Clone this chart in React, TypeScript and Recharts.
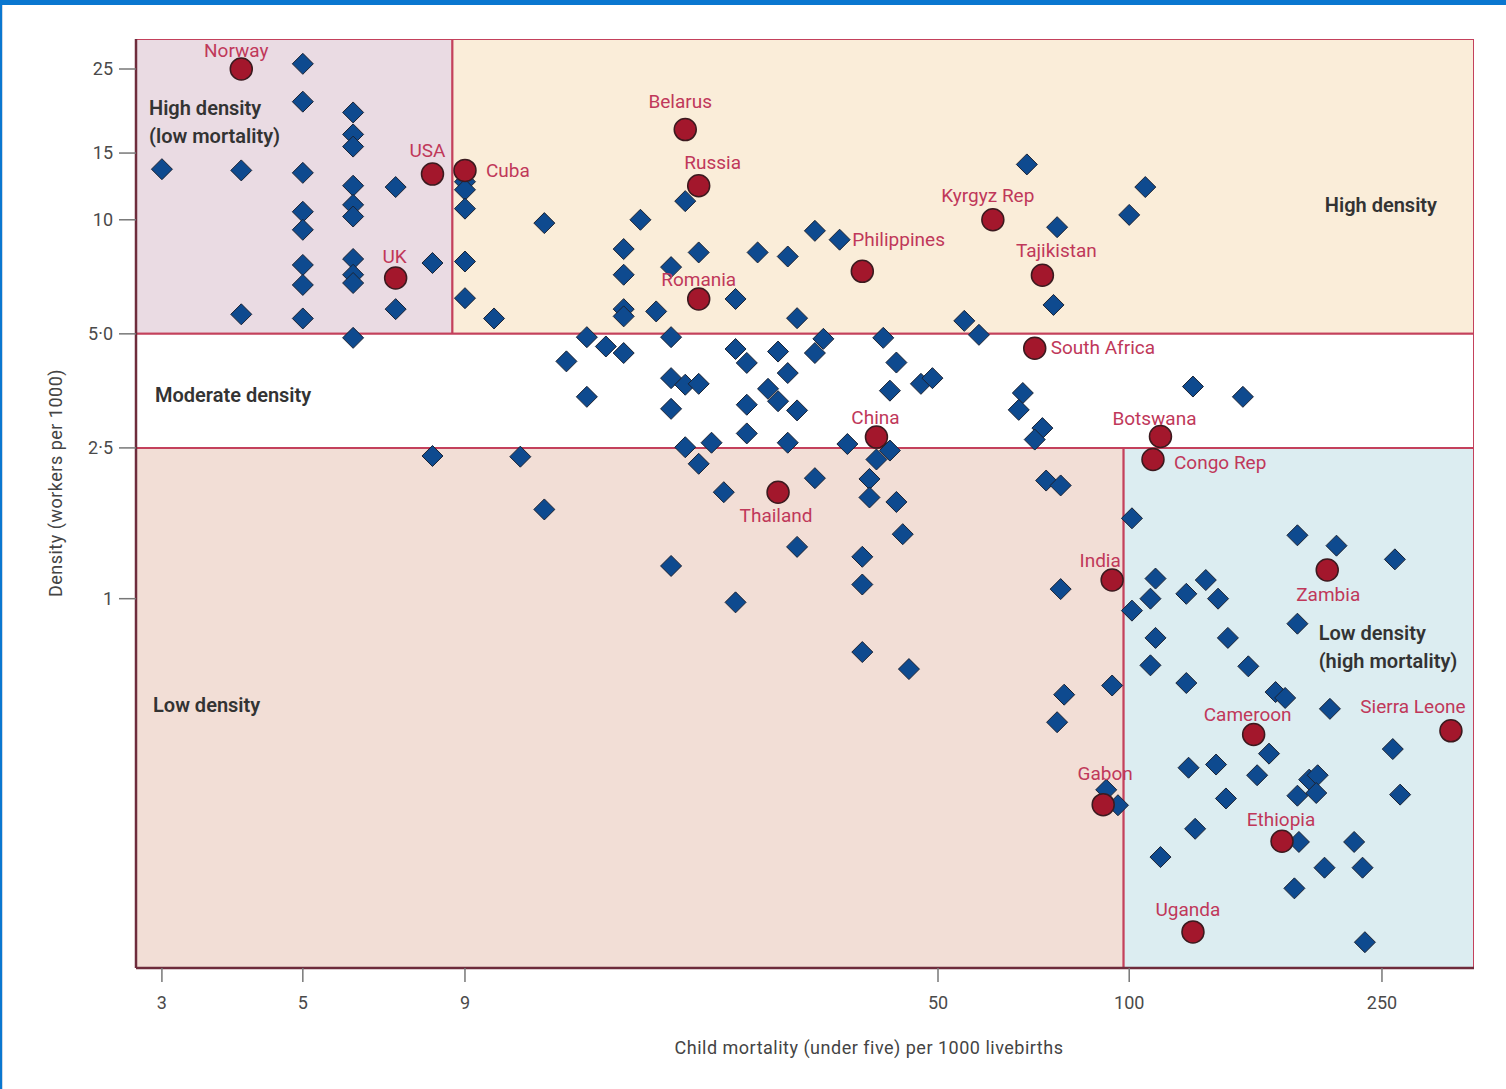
import React from 'react';
import { ReferenceArea, Scatter, ScatterChart, XAxis, YAxis } from 'recharts';

/** Health-worker density vs child mortality — log/log scatter with density bands. */

// unlabelled countries
const mortality = [
  3, 4, 4, 5, 5, 5, 5, 5, 5, 5, 5,
  6, 6, 6, 6, 6, 6, 6, 6, 6, 6,
  7, 7, 8, 9, 9, 9, 9, 9,
  10, 12, 17, 20, 16, 16, 19, 21, 26, 29, 32, 35, 16, 16, 18, 24, 30,
  69, 55, 58, 106, 100, 77, 76,
  14, 15, 16, 19, 24, 25, 28, 29, 33, 32, 41, 43,
  13, 14, 19, 20, 21, 19, 25, 27, 28, 30, 42, 47, 49, 68, 67, 73, 71,
  25, 22, 20, 29, 36, 126, 151,
  42, 40, 8, 11, 12, 21, 23, 32, 39, 39, 43, 44, 30, 38, 19, 38, 24, 38, 45,
  74, 78, 78, 79, 77, 94, 92, 96,
  101, 110, 108, 101, 123, 132, 138, 184, 212, 262, 184, 110, 143, 108, 154,
  123, 170, 176, 207, 260, 166, 124, 137, 159, 192, 198, 184, 197, 267, 142,
  127, 185, 226, 112, 203, 233, 182, 235,
];
const density = [
  13.6, 13.5, 5.63, 25.8, 20.5, 13.3, 10.5, 9.41, 7.6, 6.73, 5.49,
  19.2, 16.8, 15.6, 12.3, 10.95, 10.2, 7.88, 7.16, 6.81, 4.88,
  12.2, 5.81, 7.69, 12.6, 12.0, 10.7, 7.76, 6.21,
  5.49, 9.8, 10.0, 11.2, 8.37, 7.16, 7.5, 8.2, 8.2, 8.0, 9.35, 8.86, 5.81, 5.56, 5.73, 6.18, 5.5,
  14.0, 5.41, 4.97, 12.2, 10.3, 9.56, 5.96,
  4.9, 4.63, 4.45, 4.9, 4.56, 4.19, 4.49, 3.94, 4.85, 4.45, 4.88, 4.2,
  4.23, 3.41, 3.82, 3.67, 3.69, 3.17, 3.25, 3.58, 3.32, 3.14, 3.54, 3.69, 3.82, 3.49, 3.15, 2.82, 2.63,
  2.73, 2.58, 2.51, 2.58, 2.56, 3.63, 3.41,
  2.46, 2.33, 2.38, 2.37, 1.72, 2.27, 1.91, 2.08, 2.07, 1.85, 1.8, 1.48, 1.37, 1.29, 1.22, 1.09, 0.978, 0.723, 0.652,
  2.05, 1.99, 1.06, 0.558, 0.472, 0.59, 0.313, 0.285,
  1.63, 1.13, 1.0, 0.93, 1.03, 1.12, 1.0, 1.47, 1.38, 1.27, 0.859, 0.788, 0.788, 0.667, 0.663,
  0.599, 0.567, 0.547, 0.512, 0.401, 0.39, 0.358, 0.365, 0.342, 0.333, 0.342, 0.302, 0.307, 0.304, 0.297,
  0.247, 0.228, 0.228, 0.208, 0.195, 0.195, 0.172, 0.124,
];

// labelled countries
const countries = [
  'Norway', 'USA', 'Cuba', 'UK', 'Belarus', 'Russia', 'Romania', 'Philippines',
  'Kyrgyz Rep', 'Tajikistan', 'South Africa', 'China', 'Thailand', 'Botswana',
  'Congo Rep', 'India', 'Zambia', 'Cameroon', 'Sierra Leone', 'Gabon', 'Ethiopia', 'Uganda',
];
const countryMortality = [4, 8, 9, 7, 20, 21, 21, 38, 61, 73, 71, 40, 28, 112, 109, 94, 205, 157, 321, 91, 174, 126];
const countryDensity = [25.0, 13.2, 13.5, 7.02, 17.3, 12.3, 6.18, 7.31, 10.0, 7.14, 4.58, 2.67, 1.91, 2.68, 2.33, 1.12, 1.19, 0.438, 0.448, 0.286, 0.229, 0.132];

const xTicks = [3, 5, 9, 50, 100, 250];
const yTicks = [1, 2.5, 5, 10, 15, 25];
const yTickLabels = ['1', '2·5', '5·0', '10', '15', '25'];

const xDomain = [2.731, 349];
const yDomain = [0.106, 30];
const mortalityCut = [8.6, 98];
const densityCut = [2.5, 5];

const others = mortality.map((x, i) => ({ x, y: density[i] }));
const labelled = countries.map((name, i) => ({ name, x: countryMortality[i], y: countryDensity[i] }));

// where each country name sits relative to its dot: [dx, dy, anchor]
const labelOffset: Record<string, [number, number, 'start' | 'middle']> = {
  Norway: [-5, -19, 'middle'],
  USA: [-5, -24, 'middle'],
  Cuba: [21, 0, 'start'],
  UK: [-1, -22, 'middle'],
  Belarus: [-5, -28, 'middle'],
  Russia: [14, -23, 'middle'],
  Romania: [0, -19, 'middle'],
  Philippines: [-10, -32, 'start'],
  'Kyrgyz Rep': [-5, -24, 'middle'],
  Tajikistan: [14, -25, 'middle'],
  'South Africa': [16, -1, 'start'],
  China: [-1, -20, 'middle'],
  Thailand: [-2, 23, 'middle'],
  Botswana: [-6, -18, 'middle'],
  'Congo Rep': [21, 3, 'start'],
  India: [-12, -20, 'middle'],
  Zambia: [1, 24, 'middle'],
  Cameroon: [-6, -20, 'middle'],
  'Sierra Leone': [-38, -24, 'middle'],
  Gabon: [2, -31, 'middle'],
  Ethiopia: [-1, -22, 'middle'],
  Uganda: [-5, -22, 'middle'],
};

const FONT = 'Roboto, "Noto Sans", sans-serif';
const BORDER = '#c4415c';
const AXIS = '#6e2c3c';
const LABEL_RED = '#c0385a';

const Diamond = (p: any) => {
  const { cx, cy } = p;
  const r = 10.5;
  return (
    <path
      d={`M${cx},${cy - r}L${cx + r},${cy}L${cx},${cy + r}L${cx - r},${cy}Z`}
      fill="#0e4a8f"
      stroke="#1c2333"
      strokeWidth={1}
    />
  );
};

const Labelled = (p: any) => {
  const { cx, cy, payload } = p;
  const [dx, dy, anchor] = labelOffset[payload.name] ?? [0, -20, 'middle'];
  return (
    <g>
      <circle cx={cx} cy={cy} r={11} fill="#a3172c" stroke="#3b1a1f" strokeWidth={1.5} />
      <text
        x={cx + dx}
        y={cy + dy}
        textAnchor={anchor}
        dominantBaseline="central"
        fill={LABEL_RED}
        fontSize={19}
        fontFamily={FONT}
      >
        {payload.name}
      </text>
    </g>
  );
};

const regionLabel =
  (lines: string[], dx: number, dy: number, fromRight = false) =>
  (props: any) => {
    const vb = props.viewBox;
    const x = fromRight ? vb.x + vb.width - dx : vb.x + dx;
    return (
      <g>
        {lines.map((t, i) => (
          <text
            key={t}
            x={x}
            y={vb.y + dy + i * 28}
            textAnchor={fromRight ? 'end' : 'start'}
            dominantBaseline="central"
            fill="#333"
            fontSize={20}
            fontWeight={600}
            fontFamily={FONT}
          >
            {t}
          </text>
        ))}
      </g>
    );
  };

const tickStyle = { fill: '#4a4a4a', fontSize: 18, fontFamily: FONT };

export default function App() {
  return (
    <div style={{ position: 'absolute', left: 0, top: 0, width: 1506, height: 1089, background: '#fff', overflow: 'hidden' }}>
      <div style={{ position: 'absolute', left: 0, top: 0 }}>
        <ScatterChart width={1506} height={1089} margin={{ top: 39, right: 32, bottom: 31, left: 56 }}>
          <XAxis
            dataKey="x"
            type="number"
            scale="log"
            domain={xDomain}
            allowDataOverflow
            ticks={xTicks}
            interval={0}
            height={90}
            tick={tickStyle}
            tickSize={14}
            tickMargin={14}
            tickLine={{ stroke: '#777', strokeWidth: 1.5 }}
            axisLine={{ stroke: AXIS, strokeWidth: 2.5 }}
            label={{
              content: (props: any) => (
                <text
                  x={props.viewBox.x + 733}
                  y={props.viewBox.y + 79}
                  textAnchor="middle"
                  dominantBaseline="central"
                  fill="#444"
                  fontSize={18}
                  letterSpacing={0.5}
                  fontFamily={FONT}
                >
                  Child mortality (under five) per 1000 livebirths
                </text>
              ),
            }}
          />
          <YAxis
            dataKey="y"
            type="number"
            scale="log"
            domain={yDomain}
            allowDataOverflow
            ticks={yTicks}
            interval={0}
            width={80}
            tick={tickStyle}
            tickFormatter={(v: number) => yTickLabels[yTicks.indexOf(v)] ?? String(v)}
            tickSize={17}
            tickMargin={6}
            tickLine={{ stroke: '#777', strokeWidth: 1.5 }}
            axisLine={{ stroke: AXIS, strokeWidth: 2.5 }}
            label={{
              content: (props: any) => {
                const x = props.viewBox.x - 1;
                const y = props.viewBox.y + 444;
                return (
                  <text
                    x={x}
                    y={y}
                    transform={`rotate(-90 ${x} ${y})`}
                    textAnchor="middle"
                    dominantBaseline="central"
                    fill="#444"
                    fontSize={18}
                    letterSpacing={0.5}
                    fontFamily={FONT}
                  >
                    Density (workers per 1000)
                  </text>
                );
              },
            }}
          />

          <ReferenceArea
            x1={xDomain[0]} x2={mortalityCut[0]} y1={densityCut[1]} y2={yDomain[1]}
            fill="#eadbe3" fillOpacity={1} stroke={BORDER} strokeWidth={2} ifOverflow="hidden"
            label={regionLabel(['High density', '(low mortality)'], 13, 69)}
          />
          <ReferenceArea
            x1={mortalityCut[0]} x2={xDomain[1]} y1={densityCut[1]} y2={yDomain[1]}
            fill="#faedd9" fillOpacity={1} stroke={BORDER} strokeWidth={2} ifOverflow="hidden"
            label={regionLabel(['High density'], 37, 166, true)}
          />
          <ReferenceArea
            x1={xDomain[0]} x2={xDomain[1]} y1={densityCut[0]} y2={densityCut[1]}
            fill="#ffffff" fillOpacity={1} stroke={BORDER} strokeWidth={2} ifOverflow="hidden"
            label={regionLabel(['Moderate density'], 19, 61)}
          />
          <ReferenceArea
            x1={xDomain[0]} x2={mortalityCut[1]} y1={yDomain[0]} y2={densityCut[0]}
            fill="#f2ded6" fillOpacity={1} stroke={BORDER} strokeWidth={2} ifOverflow="hidden"
            label={regionLabel(['Low density'], 17, 257)}
          />
          <ReferenceArea
            x1={mortalityCut[1]} x2={xDomain[1]} y1={yDomain[0]} y2={densityCut[0]}
            fill="#dcedf1" fillOpacity={1} stroke={BORDER} strokeWidth={2} ifOverflow="hidden"
            label={regionLabel(['Low density', '(high mortality)'], 195, 185)}
          />

          <Scatter data={others} shape={Diamond} isAnimationActive={false} />
          <Scatter data={labelled} shape={Labelled} isAnimationActive={false} />
        </ScatterChart>
      </div>
      <div style={{ position: 'absolute', left: 0, top: 0, width: 1506, height: 5, background: '#0a77d0' }} />
      <div style={{ position: 'absolute', left: 0, top: 0, width: 2, height: 1089, background: '#0a77d0' }} />
      <div style={{ position: 'absolute', left: 2, top: 5, width: 1, height: 1084, background: '#cdd9e6' }} />
    </div>
  );
}
